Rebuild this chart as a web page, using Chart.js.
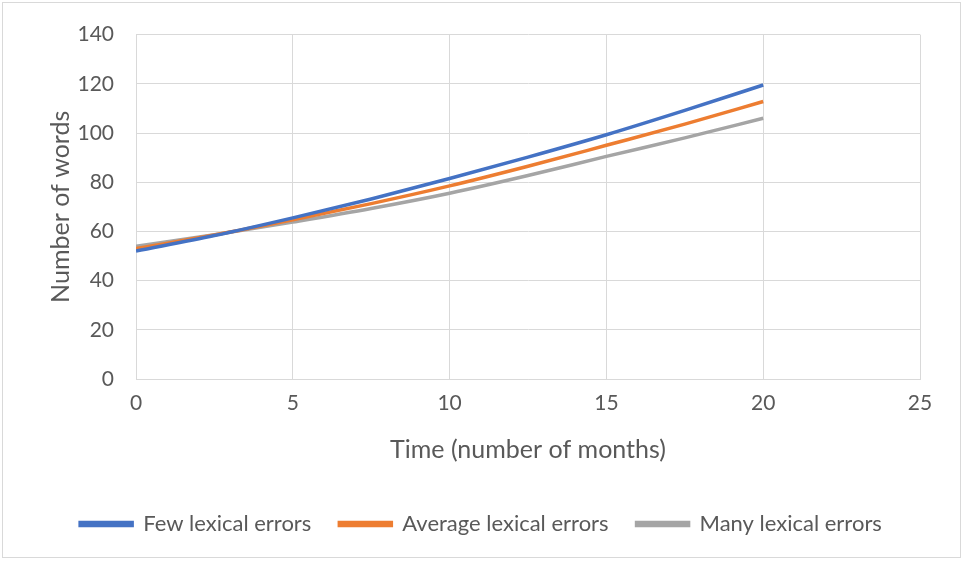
<!DOCTYPE html>
<html>
<head>
<meta charset="utf-8">
<script src="https://cdn.jsdelivr.net/npm/chart.js@4.4.1/dist/chart.umd.min.js"></script>
<style>
  html, body { margin: 0; padding: 0; background: #fff; }
  #wrap { position: relative; width: 963px; height: 561px; }
  #frame { position: absolute; left: 2px; top: 2px; width: 957px; height: 554px; border: 1px solid #d9d9d9; pointer-events: none; }
</style>
</head>
<body>
<div id="wrap">
  <canvas id="lineChart" width="963" height="561"></canvas>
  <div id="frame"></div>
</div>
<script>
  // months
  const months = [0, 2.5, 5, 7.5, 10, 12.5, 15, 17.5, 20];

  // words per series
  const fewErrors = [52, 58.3, 65.5, 73.2, 81.5, 90.2, 99.3, 109.2, 119.5];
  const averageErrors = [53, 58.5, 64.7, 71.3, 78.5, 86.5, 95, 103.6, 112.8];
  const manyErrors = [54, 58.6, 63.8, 69.3, 75.5, 82.7, 90.5, 98, 106];

  const seriesNames = ["Few lexical errors", "Average lexical errors", "Many lexical errors"];
  const seriesColors = ["#4472c4", "#ed7d31", "#a5a5a5"];

  const xTicks = [0, 5, 10, 15, 20, 25];
  const yTicks = [0, 20, 40, 60, 80, 100, 120, 140];

  const toPoints = (vals) => vals.map((v, i) => ({ x: months[i], y: v }));

  const lineData = {
    datasets: [fewErrors, averageErrors, manyErrors].map((vals, i) => ({
      label: seriesNames[i],
      data: toPoints(vals),
      borderColor: seriesColors[i],
      backgroundColor: seriesColors[i],
      borderWidth: 3.5,
      pointRadius: 0,
      cubicInterpolationMode: 'monotone',
    }))
  };

  const font = "Lato, 'Open Sans', sans-serif";
  const grey = "#595959";
  const gridColor = "#d9d9d9";

  const lineOptions = {
    responsive: false,
    animation: false,
    layout: { padding: { left: 42, right: 43, top: 30, bottom: 16 } },
    plugins: {
      legend: {
        position: 'bottom',
        labels: {
          boxWidth: 52,
          boxHeight: 3,
          padding: 28,
          color: grey,
          font: { family: font, size: 22 }
        }
      },
      tooltip: { enabled: false }
    },
    scales: {
      x: {
        type: 'linear',
        min: 0,
        max: 25,
        afterBuildTicks: (scale) => { scale.ticks = xTicks.map(v => ({ value: v })); },
        afterFit: (scale) => { scale.height = 106; },
        grid: { color: gridColor, lineWidth: 1, drawTicks: false },
        border: { color: gridColor },
        ticks: { color: grey, padding: 12, font: { family: font, size: 21 } },
        title: {
          display: true,
          text: "Time (number of months)",
          color: grey,
          font: { family: font, size: 25 },
          padding: { top: 4, bottom: 20 }
        }
      },
      y: {
        min: 0,
        max: 140,
        afterBuildTicks: (scale) => { scale.ticks = yTicks.map(v => ({ value: v })); },
        afterFit: (scale) => { scale.width = 94; },
        grid: { color: gridColor, lineWidth: 1, drawTicks: false },
        border: { color: gridColor },
        ticks: { color: grey, padding: 22, font: { family: font, size: 21 } },
        title: {
          display: true,
          text: "Number of words",
          color: grey,
          font: { family: font, size: 25 },
          padding: { bottom: 10 }
        }
      }
    }
  };

  const ctx = document.getElementById('lineChart').getContext('2d');
  new Chart(ctx, {
    type: 'line',
    data: lineData,
    options: lineOptions
  });
</script>
</body>
</html>
